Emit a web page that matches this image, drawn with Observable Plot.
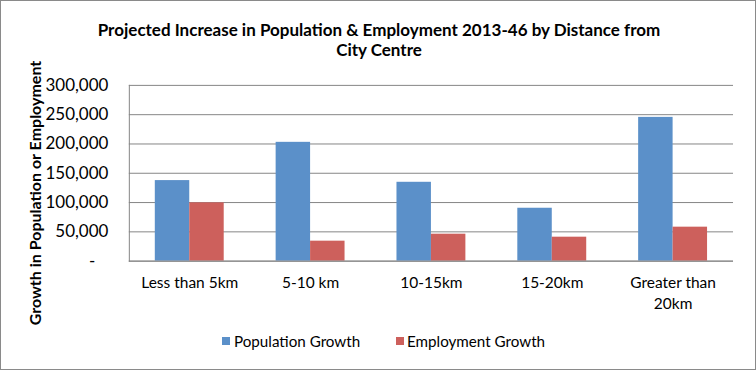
<!DOCTYPE html>
<html>
<head>
<meta charset="utf-8">
<script src="https://cdn.jsdelivr.net/npm/d3@7"></script>
<script src="https://cdn.jsdelivr.net/npm/@observablehq/plot@0.6"></script>
<style>
  html, body { margin: 0; padding: 0; background: #fff; }
  #wrap { position: relative; width: 756px; height: 370px; box-sizing: border-box; border: 1px solid #8a8a8a; background: #fff; font-family: Lato, "Open Sans", sans-serif; color: #000; overflow: hidden; }
  #title { position: absolute; left: 0; top: 19px; width: 756px; text-align: center; font-weight: bold; font-size: 17px; line-height: 20px; }
  #ylabel { position: absolute; left: 33px; top: 192px; transform: translate(-50%, -50%) rotate(-90deg); white-space: nowrap; font-weight: bold; font-size: 16px; }
  #chart { position: absolute; left: -1px; top: -1px; }
  #legend { position: absolute; top: 331px; left: 0; width: 756px; font-size: 15.2px; line-height: 18px; }
  .item { position: absolute; top: 0; white-space: nowrap; }
  .sw { position: absolute; top: 5px; width: 8px; height: 8px; }
</style>
</head>
<body>
<div id="wrap">
  <div id="title">Projected Increase in Population &amp; Employment 2013-46 by Distance from<br>City Centre</div>
  <div id="ylabel">Growth in Population or Employment</div>
  <div id="chart"></div>
  <div id="legend"></div>
</div>
<script>
const categories = ["Less than 5km", "5-10 km", "10-15km", "15-20km", "Greater than 20km"];
const categoryLabels = ["Less than 5km", "5-10 km", "10-15km", "15-20km", "Greater than\n20km"];
const populationGrowth = [137500, 202800, 134600, 90300, 245400];
const employmentGrowth = [99500, 34100, 46000, 40900, 58000];
const seriesNames = ["Population Growth", "Employment Growth"];
const seriesColors = ["#5b90c9", "#cd605c"];
const yTicks = [0, 50000, 100000, 150000, 200000, 250000, 300000];

const rows = categories.map((c, i) => ({cat: c, pop: populationGrowth[i], emp: employmentGrowth[i]}));
const labelOf = new Map(categories.map((c, i) => [c, categoryLabels[i]]));
const fmt = d3.format(",");

const chart = Plot.plot({
  width: 756,
  height: 370,
  marginTop: 85,
  marginBottom: 109,
  marginLeft: 129,
  marginRight: 22,
  style: {fontFamily: "Lato, 'Open Sans', sans-serif", fontSize: "15px", color: "#000", background: "transparent"},
  x: {domain: categories, paddingInner: 0.43, paddingOuter: 0.215, label: null},
  y: {domain: [0, 300000], label: null},
  marks: [
    Plot.gridY(yTicks, {stroke: "#868686", strokeOpacity: 1}),
    Plot.frame({anchor: "left", stroke: "#868686"}),
    Plot.barY(rows, {x: "cat", y: "pop", fill: seriesColors[0], insetRight: 34.5}),
    Plot.barY(rows, {x: "cat", y: "emp", fill: seriesColors[1], insetLeft: 34.5}),
    Plot.ruleY([0], {stroke: "#868686"}),
    Plot.axisY({ticks: yTicks, tickSize: 0, tickPadding: 21, label: null,
      tickFormat: d => d === 0 ? "-\u00a0\u00a0\u00a0" : fmt(d), fontSize: 17}),
    Plot.axisX({tickSize: 0, tickPadding: 13, label: null, tickFormat: d => labelOf.get(d), fontSize: 15.5, lineHeight: 1.3})
  ]
});
document.getElementById("chart").appendChild(chart);

const legend = document.getElementById("legend");
const pos = [{sw: 221, tx: 233}, {sw: 395, tx: 406}];
seriesNames.forEach((name, i) => {
  const sw = document.createElement("div");
  sw.className = "sw";
  sw.style.left = pos[i].sw + "px";
  sw.style.background = seriesColors[i];
  legend.appendChild(sw);
  const t = document.createElement("div");
  t.className = "item";
  t.style.left = pos[i].tx + "px";
  t.textContent = name;
  legend.appendChild(t);
});
</script>
</body>
</html>
